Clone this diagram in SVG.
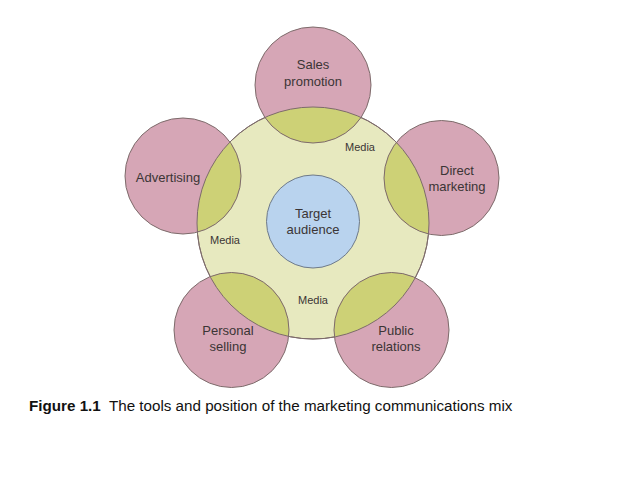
<svg xmlns="http://www.w3.org/2000/svg" width="638" height="479" viewBox="0 0 638 479">
<style>
.pink{fill:#d6a6b6;}
.outline{fill:none;stroke:#7d6b6b;stroke-width:1;}
.lbl{font-family:"Liberation Sans",Arial,sans-serif;font-size:13px;fill:#3b3535;text-anchor:middle;}
.media{font-family:"Liberation Sans",Arial,sans-serif;font-size:11px;fill:#3b3535;text-anchor:middle;}
.cap{font-family:"Liberation Sans",Arial,sans-serif;font-size:15.2px;fill:#111;}
</style>
<defs>
<clipPath id="bigclip"><circle cx="313" cy="223" r="116"/></clipPath>
</defs>
<rect width="638" height="479" fill="#ffffff"/>
<g id="media-ring">
<circle cx="313" cy="223" r="116" fill="#e7e9bf" stroke="#7d6b6b" stroke-width="1"/>
</g>
<g id="sales-promotion">
<circle class="pink" cx="313" cy="85" r="58"/>
<circle cx="313" cy="85" r="58" fill="#cdd176" clip-path="url(#bigclip)"/>
<circle class="outline" cx="313" cy="85" r="58"/>
<text class="lbl" x="313" y="69">Sales</text>
<text class="lbl" x="313" y="86">promotion</text>
</g>
<g id="advertising">
<circle class="pink" cx="183" cy="176" r="58"/>
<circle cx="183" cy="176" r="58" fill="#cdd176" clip-path="url(#bigclip)"/>
<circle class="outline" cx="183" cy="176" r="58"/>
<text class="lbl" x="168" y="182">Advertising</text>
</g>
<g id="direct-marketing">
<circle class="pink" cx="441.5" cy="178" r="57.5"/>
<circle cx="441.5" cy="178" r="57.5" fill="#cdd176" clip-path="url(#bigclip)"/>
<circle class="outline" cx="441.5" cy="178" r="57.5"/>
<text class="lbl" x="457" y="175">Direct</text>
<text class="lbl" x="457" y="191">marketing</text>
</g>
<g id="personal-selling">
<circle class="pink" cx="231.5" cy="330" r="57.5"/>
<circle cx="231.5" cy="330" r="57.5" fill="#cdd176" clip-path="url(#bigclip)"/>
<circle class="outline" cx="231.5" cy="330" r="57.5"/>
<text class="lbl" x="228" y="335">Personal</text>
<text class="lbl" x="228" y="351">selling</text>
</g>
<g id="public-relations">
<circle class="pink" cx="391.5" cy="330" r="57.5"/>
<circle cx="391.5" cy="330" r="57.5" fill="#cdd176" clip-path="url(#bigclip)"/>
<circle class="outline" cx="391.5" cy="330" r="57.5"/>
<text class="lbl" x="396" y="335">Public</text>
<text class="lbl" x="396" y="351">relations</text>
</g>
<g id="ring-outline">
<circle class="outline" cx="313" cy="223" r="116"/>
<text class="media" x="360" y="151">Media</text>
<text class="media" x="225" y="244">Media</text>
<text class="media" x="313" y="304">Media</text>
</g>
<g id="target-audience">
<circle cx="313" cy="221.5" r="46.5" fill="#b9d3ee" stroke="#6f7a88" stroke-width="1"/>
<text class="lbl" x="313" y="218">Target</text>
<text class="lbl" x="313" y="234">audience</text>
</g>
<g id="caption">
<text class="cap" x="29" y="411"><tspan font-weight="bold">Figure 1.1</tspan><tspan xml:space="preserve">  The tools and position of the marketing communications mix</tspan></text>
</g>
</svg>
